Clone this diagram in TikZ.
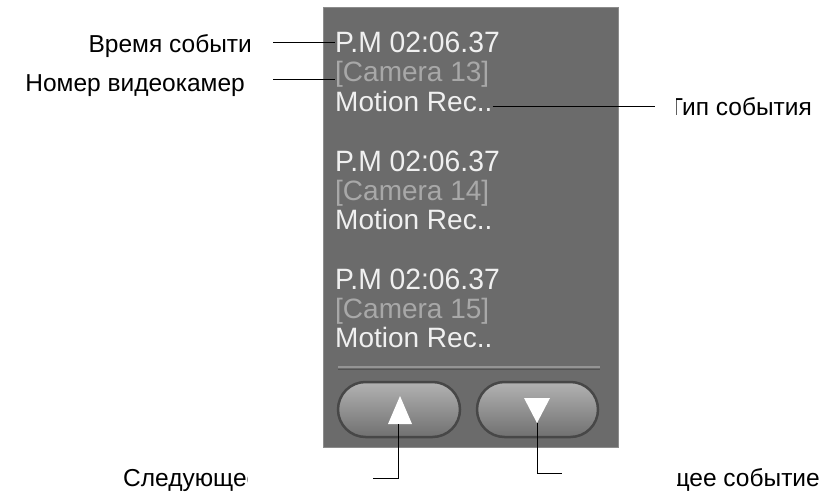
\documentclass[tikz,border=0pt]{standalone}
\usepackage{fontspec}
\setmainfont{Liberation Sans}
\usetikzlibrary{shapes.misc}
\begin{document}
\begin{tikzpicture}[x=1pt,y=-1pt,
  lab/.style={font=\fontsize{24.5}{27}\selectfont, inner sep=0pt, text=black},
  tm/.style={font=\fontsize{28}{30}\selectfont, inner sep=0pt, anchor=base west, text=white!94!black},
  cam/.style={font=\fontsize{28}{30}\selectfont, inner sep=0pt, anchor=base west, text=black!34},
  leader/.style={draw=black, line width=1pt},
  btn/.style={rounded rectangle, minimum height=55pt, inner sep=0pt, draw=black!72, line width=2.5pt, top color=black!30, bottom color=black!56},
  tri/.style={fill=white, draw=none}]
\useasboundingbox (0,0) rectangle (834,492);
\fill[white] (0,0) rectangle (834,492);
% panel
\node[draw=black!45, line width=0.8pt, fill=black!58, minimum width=295pt, minimum height=440pt, inner sep=0pt, anchor=north west] (panel) at (323,7) {};
% event entries
\node[tm]  (t1) at (335,53)  {\scalebox{1.01}[1.05]{P.M 02:06.37}};
\node[cam] (c1) at (335,82)  {[Camera 13]};
\node[tm]  (m1) at (335,111) {Motion Rec..};
\node[tm]  (t2) at (335,171) {\scalebox{1.01}[1.05]{P.M 02:06.37}};
\node[cam] (c2) at (335,200) {[Camera 14]};
\node[tm]  (m2) at (335,229) {Motion Rec..};
\node[tm]  (t3) at (335,289) {\scalebox{1.01}[1.05]{P.M 02:06.37}};
\node[cam] (c3) at (335,318) {[Camera 15]};
\node[tm]  (m3) at (335,347) {Motion Rec..};
% separator
\draw[black!42, line width=1.5pt] (338,367) -- (600,367);
\draw[black!68, line width=1pt] (338,369.5) -- (600,369.5);
% buttons
\node[btn, minimum width=122pt] (up) at (399,409.5) {};
\node[btn, minimum width=121pt] (dn) at (537.5,409.5) {};
\fill[tri] (400,396) -- (412,424) -- (388,424) -- cycle;
\fill[tri] (524,398) -- (550,398) -- (537,423) -- cycle;
\coordinate (upb) at (398,424);
\coordinate (dnb) at (537,423);
% labels
\node[lab, anchor=base east] (l1) at (252,53) {Время событи};
\node[lab, anchor=base east] (l2) at (245,92) {Номер видеокамер};
\begin{scope}
  \clip (676,90) rectangle (834,130);
  \node[lab, anchor=base east] (l3) at (812,115) {Тип события};
\end{scope}
\begin{scope}
  \clip (100,455) rectangle (247,492);
  \node[lab, anchor=base west] (l4) at (123,486) {Следующее};
\end{scope}
\begin{scope}
  \clip (677,455) rectangle (834,492);
  \node[lab, anchor=base east] (l5) at (820,486) {щее событие};
\end{scope}
% leaders
\coordinate (a1) at (273,43);
\coordinate (a2) at (273,80);
\coordinate (a3) at (655,107);
\coordinate (a4) at (373,478);
\coordinate (a5) at (562,473);
\draw[leader] (a1) -- (a1 -| t1.west);
\draw[leader] (a2) -- (a2 -| c1.west);
\draw[leader] ([yshift=4pt]m1.base east) -- (a3);
\draw[leader] (upb) |- (a4);
\draw[leader] (dnb) |- (a5);
\end{tikzpicture}
\end{document}
